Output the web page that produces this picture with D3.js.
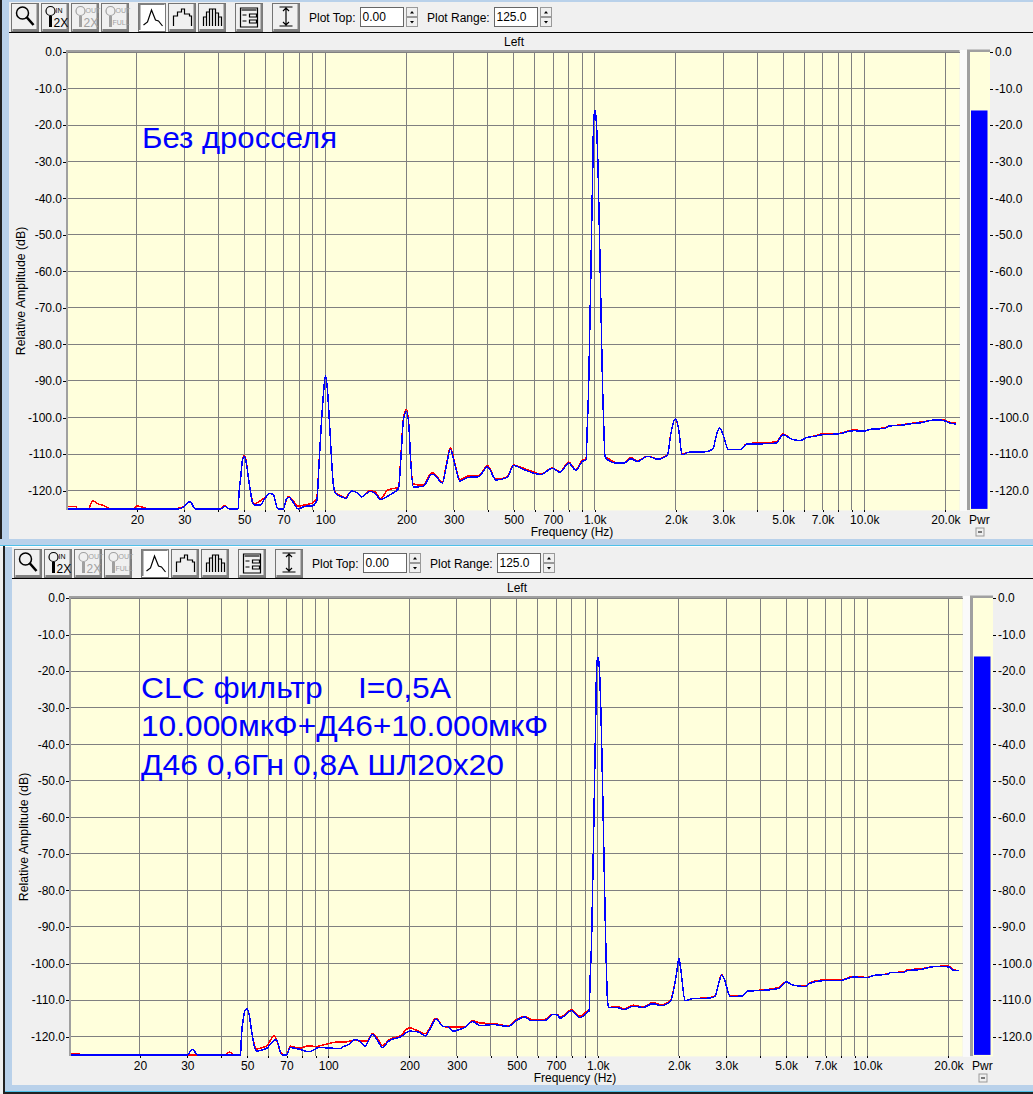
<!DOCTYPE html>
<html>
<head>
<meta charset="utf-8">
<script src="https://cdnjs.cloudflare.com/ajax/libs/d3/7.8.5/d3.min.js"></script>
<style>
  html, body { margin: 0; padding: 0; background: #f0f0f0; }
  svg { display: block; }
  text { font-family: "Liberation Sans", Arial, sans-serif; font-size: 12px; fill: #000; }
  .note { font-size: 30px; fill: #0000ff; white-space: pre; }
  .grid line { stroke: #808080; stroke-width: 1; shape-rendering: crispEdges; }
  .axis path { display: none; }
  .axis line { stroke: #000; shape-rendering: crispEdges; }
  .trace { fill: none; stroke-width: 1.5; stroke-linejoin: round; shape-rendering: crispEdges; }
  .icon { fill: none; stroke: #000; stroke-width: 1.2; }
  .icon.off { stroke: #a0a0a0; }
</style>
</head>
<body>
<svg id="chart" width="1033" height="1094"></svg>
<script>
// amplitude scale and frequency grid shared by both analyser panels
const dbTicks = [0, -10, -20, -30, -40, -50, -60, -70, -80, -90, -100, -110, -120];
const freqTicks = [20, 30, 40, 50, 60, 70, 80, 90, 100, 200, 300, 400, 500, 600, 700, 800, 900,
  1000, 2000, 3000, 4000, 5000, 6000, 7000, 8000, 9000, 10000, 20000];
const freqLabels = { 20: '20', 30: '30', 50: '50', 70: '70', 100: '100', 200: '200', 300: '300', 500: '500',
  700: '700', 1000: '1.0k', 2000: '2.0k', 3000: '3.0k', 5000: '5.0k', 7000: '7.0k', 10000: '10.0k', 20000: '20.0k' };

// the 1 kHz test tone
const topPeak = [[928, -111.5], [938, -102.5], [949, -91.6], [957, -77.7], [966, -62.8], [974, -47.3], [982, -33.7],
  [987, -23.3], [993, -17.7], [1002, -16.1], [1010, -17.7], [1019, -22.7], [1028, -31.4], [1036, -42.8], [1045, -56],
  [1054, -69.8], [1063, -83.4], [1072, -95.2], [1082, -104.3], [1091, -110.6]];
const bottomPeak = [[928, -113], [938, -103], [949, -92.9], [957, -79], [966, -63.3], [974, -47.8], [982, -33.9],
  [987, -23.4], [993, -17.7], [1002, -16.2], [1010, -17.7], [1019, -23], [1028, -31.8], [1036, -43], [1045, -56.4],
  [1054, -70.4], [1063, -84], [1072, -96.3], [1088, -110.5], [1100, -112]];

const topBlue = [[11.1, -125], [28.5, -125], [30, -124.3], [31.5, -123], [32.9, -125], [41, -125], [42.5, -124.3], [43.9, -125],
  [47.5, -125], [47.8, -121.3], [48.6, -116], [49.3, -111.6], [50, -110.7], [50.7, -111.6], [51.7, -115.8], [52.7, -120],
  [53.6, -123], [54.3, -123.9], [57.4, -123.9], [59.6, -122.2], [62.2, -120.8], [64, -121], [66.8, -125], [69.9, -125],
  [71.9, -122.2], [73.3, -121.8], [75.9, -123.1], [79.4, -125], [84, -124.3], [89.5, -124.2], [93, -122.7], [95, -111.6],
  [96.9, -100.6], [98.9, -91.8], [100, -88.6], [101.7, -91.8], [103.5, -100.6], [105.2, -109.8], [107, -118], [109.2, -120.8],
  [115, -121.7], [119, -122.1], [125, -120.1], [131, -120.6], [136.5, -121.7], [146.5, -120.2], [153, -120.8], [160.6, -122.4],
  [174, -121.1], [187, -119.4], [190.6, -111.6], [195, -100.6], [200, -98.3], [204.5, -102.9], [207, -110.7], [212, -119],
  [231, -118.8], [248.6, -115.5], [255, -115.8], [272, -117.9], [281, -113.5], [291, -108.7], [304, -113.5], [315.5, -117.4],
  [339, -116.4], [370, -116.2], [400, -113.5], [430, -117.1], [473, -116.4], [500, -113.1], [540, -114.1], [600, -115.3],
  [630, -115.6], [695, -113.9], [743, -115], [800, -112.5], [850, -114.4], [900, -112], ...topPeak,
  [1127, -111.8], [1210, -112.5], [1280, -112.5], [1360, -111.3], [1440, -112], [1570, -110.6], [1710, -111.4], [1860, -110.3],
  [1917, -104.3], [1990, -100.3], [2050, -103.4], [2107, -110.2], [2240, -109.5], [2550, -109.4], [2740, -108.7], [2820, -105.2],
  [2900, -102.8], [2980, -104.3], [3130, -108.7], [3500, -108.7], [3650, -107.3], [4140, -107.2], [4700, -107], [5000, -104.7],
  [5370, -105.9], [5800, -106.3], [6100, -105.5], [6600, -105.1], [7000, -104.7], [8000, -104.5], [9100, -103.6], [10000, -103.7],
  [10600, -103.2], [11900, -103], [12400, -102.3], [13800, -102.1], [14600, -101.8], [16300, -101.4], [18100, -100.7],
  [19300, -100.7], [20800, -101.5], [21900, -101.8]];

const topRed = [[11.1, -124.3], [11.9, -124.3], [12, -125], [13.2, -125], [13.7, -122.8], [14.4, -123.7], [15, -124], [15.7, -124.8],
  [15.9, -125], [19.5, -125], [20, -124.2], [21.6, -124.8], [22.5, -125], [28, -125], [28.6, -124.8], [30, -124.3], [31.5, -123],
  [32.9, -125], [41, -125], [41.8, -124.2], [42.7, -124.2], [43.9, -125], [47.5, -125], [47.8, -121.3], [48.6, -116], [49.3, -111.4],
  [50, -110.5], [50.7, -111.4], [51.7, -115.8], [52.7, -120], [53.6, -122.6], [54.3, -123.6], [57.4, -122.8], [59.6, -121.9], [62.2, -120.8],
  [64, -121], [66.8, -125], [69.9, -125], [71.9, -122.2], [73.3, -121.6], [75.9, -122.8], [79.4, -124.2], [84, -123.9], [89.5, -123.4],
  [93, -122], [95, -111.4], [96.9, -100.6], [98.9, -91.8], [100, -88.6], [101.7, -91.8], [103.5, -100.6], [105.2, -109.8], [107, -118],
  [109.2, -120.6], [115, -121.5], [119, -121.9], [125, -120.1], [131, -120.6], [136.5, -121.7], [146.5, -120], [153, -120.4], [160.6, -122.2],
  [170, -119.9], [187, -119], [190.6, -111.2], [195, -100.2], [200, -97.8], [204.5, -102.6], [207, -110.4], [212, -118.2], [231, -118.5],
  [248.6, -115.1], [255, -115.5], [272, -117.6], [281, -113.2], [291, -108.3], [304, -113.2], [315.5, -117], [339, -116], [370, -116],
  [400, -113.2], [430, -116.9], [473, -116.2], [500, -113], [540, -113.8], [600, -115], [630, -115.5], [695, -113.8], [743, -114.8],
  [800, -112.2], [850, -114.2], [900, -111.7], ...topPeak, [1127, -111.3], [1210, -112.4], [1280, -112.4], [1360, -111], [1440, -111.8],
  [1570, -110.6], [1710, -111.3], [1860, -110.2], [1917, -104.3], [1990, -100.3], [2050, -103.4], [2107, -110], [2240, -109.5],
  [2550, -109.4], [2740, -108.7], [2820, -105.2], [2900, -102.8], [2980, -104.3], [3130, -108.7], [3500, -108.7], [3650, -107.2],
  [4140, -106.9], [4700, -106.7], [5000, -104.5], [5370, -105.9], [5800, -106.3], [6100, -105.5], [6600, -105], [7000, -104.4],
  [8000, -104.4], [9100, -103.4], [10000, -103.6], [10600, -103.2], [11900, -102.8], [12400, -102.3], [13800, -102], [14600, -101.7],
  [16300, -101.2], [18100, -100.7], [19300, -100.5], [20800, -101.3], [21900, -101.5]];

const bottomBlue = [[11.1, -125], [30, -125], [30.9, -123.8], [31.5, -123.5], [32.6, -125], [47.3, -125], [47.6, -120.1], [48.3, -115.5],
  [49.1, -112.8], [50, -112.4], [50.9, -114.1], [51.9, -118.3], [52.9, -122], [54.1, -124], [55.7, -123.8], [59.3, -123.1], [61.6, -121.7],
  [64.1, -120.8], [67.2, -125], [70.2, -125], [72.1, -123], [78.6, -123.5], [84, -124.1], [86.3, -124], [92, -123], [101, -123.1], [110, -123.3],
  [114, -122.7], [118, -122.3], [126, -120.8], [131, -121.3], [137, -122.6], [141, -121], [146, -119.4], [151, -120.6], [159, -123],
  [167, -121.3], [187, -119.9], [200, -118.5], [216, -118.7], [229, -119.8], [239, -117.8], [251, -115.2], [267, -117.2], [279, -117.3],
  [291, -118.5], [300, -118.3], [321, -117.5], [343, -115.9], [367, -117], [409, -116.7], [465, -117.2], [497, -115.7], [535, -114.6],
  [566, -115.6], [635, -115.6], [681, -113.9], [710, -114.1], [724, -115], [800, -112.9], [860, -114.8], [920, -113.2], ...bottomPeak,
  [1190, -112.1], [1246, -112.6], [1356, -111.7], [1475, -112], [1600, -111], [1720, -111.5], [1860, -110.4], [1960, -102.7],
  [2000, -98.5], [2030, -101.4], [2110, -110.2], [2250, -109.6], [2560, -109.5], [2720, -109], [2800, -105.9], [2880, -103.2],
  [2940, -104.1], [3100, -109], [3440, -108.9], [3600, -107.5], [4000, -107.4], [4700, -106.8], [5000, -105], [5300, -105.9],
  [5900, -106.3], [6100, -105.5], [6800, -104.7], [8000, -104.6], [8850, -103.7], [10000, -103.9], [10500, -103.3], [11900, -102.9],
  [12200, -102.5], [13700, -102.4], [14000, -102], [15900, -101.6], [17900, -100.8], [20000, -100.9], [21000, -101.9], [21900, -101.9]];

const bottomRed = [[11.1, -124.7], [11.9, -124.7], [12, -125], [41.5, -125], [43, -124.2], [44.5, -125], [47.3, -125], [47.6, -120.1],
  [48.3, -115.5], [49.1, -112.8], [50, -112.4], [50.9, -114.1], [51.9, -118.3], [52.9, -121.6], [54.1, -123.4], [57.4, -122.9], [59.3, -122.4],
  [63, -119.7], [67.2, -124.7], [70.2, -125], [72.1, -122.6], [78.6, -123.2], [84, -122.5], [90, -122.7], [99, -122], [107.6, -121.5],
  [114, -121.5], [124, -121.1], [139, -121.2], [146, -119.2], [151, -120.1], [159, -122.4], [170, -120.6], [184, -119.9], [200, -117.6],
  [216, -118.5], [229, -119.2], [251, -115], [267, -117.2], [282, -117.4], [321, -117.4], [343, -115.6], [367, -116.3], [409, -116.4],
  [465, -117.1], [497, -115.4], [535, -114.5], [566, -115.3], [635, -115.3], [681, -113.9], [710, -114], [724, -114.7], [800, -112.7],
  [860, -114.4], [920, -113], ...bottomPeak, [1190, -111.8], [1246, -112.5], [1356, -111.4], [1475, -111.9], [1600, -110.7], [1720, -111.3],
  [1860, -110.1], [1960, -102.7], [2000, -98.5], [2030, -101.4], [2110, -110.2], [2250, -109.6], [2560, -109.4], [2720, -108.9],
  [2800, -105.9], [2880, -103], [2940, -104.1], [3100, -108.8], [3440, -108.8], [3600, -107.5], [4000, -107.3], [4700, -106.5], [5000, -105],
  [5300, -105.9], [5900, -106.2], [6100, -105.3], [6800, -104.5], [8000, -104.5], [8850, -103.5], [10000, -103.8], [10500, -103.3],
  [11900, -102.8], [12200, -102.5], [13700, -102.3], [14000, -101.8], [15900, -101.4], [17900, -100.8], [20000, -100.7], [21000, -101.8], [21900, -101.9]];

const meterLevel = -16;
const topNotes = ['Без дросселя'];
const bottomNotes = ['CLC фильтр    I=0,5А', '10.000мкФ+Д46+10.000мкФ', 'Д46 0,6Гн 0,8А ШЛ20х20'];

const margin = { left: 68, top: 52 };
const plotWidth = 891.5;
const plotHeight = 456.9;

const svg = d3.select('#chart');

// window chrome: blue frame strips around the two analyser windows
function drawChrome() {
  const frame = svg.append('g');
  const box = (x, y, w, h, c) => frame.append('rect').attr('x', x).attr('y', y).attr('width', w).attr('height', h)
    .attr('fill', c).attr('shape-rendering', 'crispEdges');
  box(0, 0, 1033, 2, '#b9d1ea');
  box(0, 0, 2, 546, '#222');
  box(2, 0, 7, 539, '#b9d1ea');
  box(0, 539, 1033, 6, '#b9d1ea');
  box(0, 545, 1033, 1, '#4fc0e8');
  box(0, 546, 1033, 1, '#fff');
  box(3, 546, 2, 548, '#222');
  box(5, 547, 7, 538, '#b9d1ea');
  box(5, 1085, 1028, 6, '#b9d1ea');
  box(5, 1091, 1028, 1, '#4fc0e8');
  box(3, 1092, 1030, 2, '#222');
}

function drawButton(g, x, pressed, drawIcon) {
  const b = g.append('g').attr('transform', `translate(${x},3)`);
  b.append('rect').attr('width', 27).attr('height', 28).attr('fill', pressed ? '#fff' : '#f0f0f0').attr('stroke', '#222')
    .attr('stroke-width', 0.6).attr('shape-rendering', 'crispEdges');
  b.append('path').attr('d', pressed ? 'M1,27V1H26' : 'M26,1V27H1').attr('fill', 'none').attr('stroke', '#808080').attr('stroke-width', 2);
  drawIcon(b);
}

function lens(b, off, r) {
  b.append('circle').attr('class', off ? 'icon off' : 'icon').attr('cx', 9).attr('cy', 8).attr('r', r);
}

function smallText(b, str, x, y, size, off) {
  b.append('text').attr('x', x).attr('y', y).style('font-size', size + 'px').style('fill', off ? '#a0a0a0' : '#000').text(str);
}

function zoomIcon(top, bottom, off) {
  return b => {
    lens(b, off, 4.5);
    b.append('path').attr('d', 'M9,13V24').attr('class', off ? 'icon off' : 'icon').style('stroke-width', 3);
    smallText(b, top, 14, 10, 7, off);
    if (bottom === 'FULL') smallText(b, bottom, 11, 22, 7, off);
    else smallText(b, bottom, 12, 24, 12, off);
  };
}

function pathIcon(d) {
  return b => b.append('path').attr('class', 'icon').attr('d', d);
}

// toolbar with the plot style buttons and the two spin fields
function drawToolbar(g) {
  drawButton(g, 11.5, false, b => {
    b.append('circle').attr('class', 'icon').attr('cx', 11).attr('cy', 10).attr('r', 6).style('stroke-width', 1.5);
    b.append('path').attr('class', 'icon').attr('d', 'M15,14L22,22').style('stroke-width', 2.5);
  });
  drawButton(g, 41.5, false, zoomIcon('IN', '2X', false));
  drawButton(g, 71.5, false, zoomIcon('OUT', '2X', true));
  drawButton(g, 101.5, false, zoomIcon('OUT', 'FULL', true));
  drawButton(g, 138.5, true, pathIcon('M5,22L9,19L13,7L17,17L20,18L24,23'));
  drawButton(g, 168.5, false, pathIcon('M5,23V13H9V9H13V6H16V11H21V13H23V23'));
  drawButton(g, 198.5, false, pathIcon('M5,23V14H8V23M8,14V9H11V23M11,9V6H14V23M14,6H17V23M17,10H20V23M20,14H23V23'));
  drawButton(g, 235.5, false, b => {
    b.append('path').attr('class', 'icon').attr('d', 'M5,5H22V24H5Z');
    b.append('path').attr('d', 'M6,6H21V8H6Z').attr('fill', '#666');
    b.append('path').attr('class', 'icon').attr('d', 'M14,11H21V14H14ZM14,17H21V20H14ZM7,12H11M7,18H11');
  });
  drawButton(g, 272.5, false, b => {
    b.append('path').attr('class', 'icon').attr('d', 'M7,4H20M7,23H20M13.5,5V22M10.5,8L13.5,5L16.5,8M10.5,19L13.5,22L16.5,19');
  });

  g.append('line').attr('x1', 9).attr('x2', 1033).attr('y1', 32.5).attr('y2', 32.5).attr('stroke', '#000').attr('shape-rendering', 'crispEdges');
  g.append('text').attr('x', 309).attr('y', 22).text('Plot Top:');
  g.append('text').attr('x', 427).attr('y', 22).text('Plot Range:');
  spinField(g, 360.5, '0.00');
  spinField(g, 494.5, '125.0');
  g.append('text').attr('x', 514).attr('y', 46).attr('text-anchor', 'middle').text('Left');
}

function spinField(g, x, value) {
  g.append('rect').attr('x', x).attr('y', 7.5).attr('width', 43).attr('height', 19).attr('fill', '#fff').attr('stroke', '#666')
    .attr('shape-rendering', 'crispEdges');
  g.append('text').attr('x', x + 2).attr('y', 21).text(value);
  [7.5, 17.5].forEach((y, i) => {
    g.append('rect').attr('x', x + 46).attr('y', y).attr('width', 11).attr('height', 9).attr('fill', '#f0f0f0').attr('stroke', '#999')
      .attr('shape-rendering', 'crispEdges');
    g.append('path').attr('d', i === 0 ? `M${x + 49.5},${y + 6}h4l-2,-2.5z` : `M${x + 49.5},${y + 3.5}h4l-2,2.5z`).attr('fill', '#000');
  });
}

function drawPanel(dx, dy, blue, red, notes, noteX, noteBaselines, noteWidths) {
  const panel = svg.append('g').attr('transform', `translate(${dx},${dy})`);
  drawToolbar(panel);

  const chart = panel.append('g').attr('transform', `translate(${margin.left},${margin.top})`);
  const xScale = d3.scaleLog().domain([11.1, 22560]).range([0, plotWidth]);
  const yScale = d3.scaleLinear().domain([0, -125]).range([0, plotHeight]);
  const dbFormat = d => d.toFixed(1);

  chart.append('rect').attr('width', plotWidth).attr('height', plotHeight + 1.5).attr('fill', '#ffffdc');

  // grid, one line for every decade step and every 10 dB
  chart.append('g').attr('class', 'grid').selectAll('line').data(dbTicks).join('line')
    .attr('x1', 0).attr('x2', plotWidth).attr('y1', d => yScale(d)).attr('y2', d => yScale(d));
  chart.append('g').attr('class', 'grid').selectAll('line').data(freqTicks).join('line')
    .attr('x1', d => xScale(d)).attr('x2', d => xScale(d)).attr('y1', 0).attr('y2', plotHeight + 1.5);

  // thick grey top and left edges of the plot
  chart.append('path').attr('d', `M-1,${plotHeight + 1}V-1H${plotWidth}`).attr('fill', 'none').attr('stroke', '#a0a0a0').attr('stroke-width', 2);

  const yAxis = d3.axisLeft(yScale).tickValues(dbTicks).tickSize(3).tickPadding(1).tickFormat(dbFormat);
  chart.append('g').attr('class', 'axis').attr('transform', 'translate(-2,0)').call(yAxis);

  const xAxis = d3.axisBottom(xScale).tickValues(freqTicks).tickSize(2).tickPadding(3).tickFormat(d => freqLabels[d] || '');
  chart.append('g').attr('class', 'axis').attr('transform', `translate(0,${plotHeight + 1.5})`).call(xAxis);
  chart.selectAll('.axis text').style('font-family', '"Liberation Sans", Arial, sans-serif').style('font-size', '12px').attr('fill', '#000');

  chart.append('text').attr('x', 504).attr('y', plotHeight + 27).attr('text-anchor', 'middle').text('Frequency (Hz)');
  chart.append('text').attr('transform', 'rotate(-90)').attr('x', -239).attr('y', -43).attr('text-anchor', 'middle')
    .style('font-size', '12.3px').text('Relative Amplitude (dB)');

  const line = d3.line().x(d => xScale(d[0])).y(d => yScale(d[1])).curve(d3.curveMonotoneX);
  chart.append('path').attr('class', 'trace').attr('d', line(red)).attr('stroke', '#ff0000');
  chart.append('path').attr('class', 'trace').attr('d', line(blue)).attr('stroke', '#0000ff');

  panel.selectAll('.note').data(notes).join('text').attr('class', 'note')
    .attr('x', noteX).attr('y', (d, i) => noteBaselines[i])
    .attr('textLength', (d, i) => noteWidths[i]).attr('lengthAdjust', 'spacingAndGlyphs')
    .text(d => d);

  // Pwr meter on the right
  const meter = panel.append('g').attr('transform', `translate(0,${margin.top})`);
  meter.append('rect').attr('x', 960).attr('y', -2).attr('width', 7).attr('height', plotHeight + 4).attr('fill', '#fafafa');
  meter.append('path').attr('d', `M968.5,${plotHeight + 1}V-1H990`).attr('fill', 'none').attr('stroke', '#a0a0a0').attr('stroke-width', 3);
  meter.append('rect').attr('x', 970).attr('y', 0).attr('width', 20).attr('height', plotHeight + 1.5).attr('fill', '#ffffdc');
  meter.append('rect').attr('x', 971).attr('y', yScale(meterLevel)).attr('width', 16.5)
    .attr('height', yScale(-125) - yScale(meterLevel)).attr('fill', '#0000ff');
  const meterAxis = d3.axisRight(yScale).tickValues(dbTicks).tickSize(3).tickPadding(2).tickFormat(dbFormat);
  meter.append('g').attr('class', 'axis').attr('transform', 'translate(990,0)').call(meterAxis);
  meter.selectAll('.axis text').style('font-family', '"Liberation Sans", Arial, sans-serif').style('font-size', '12px').attr('fill', '#000');

  panel.append('text').attr('x', 969).attr('y', 524).text('Pwr');
  panel.append('rect').attr('x', 976).attr('y', 528).attr('width', 8).attr('height', 8).attr('fill', '#f0f0f0').attr('stroke', '#999');
  panel.append('path').attr('d', 'M978,532H982').attr('stroke', '#000');
}

drawChrome();
drawPanel(0, 0, topBlue, topRed, topNotes, 142, [148], [195]);
drawPanel(3, 546, bottomBlue, bottomRed, bottomNotes, 138, [152, 190, 229], [310, 407, 363]);
</script>
</body>
</html>
